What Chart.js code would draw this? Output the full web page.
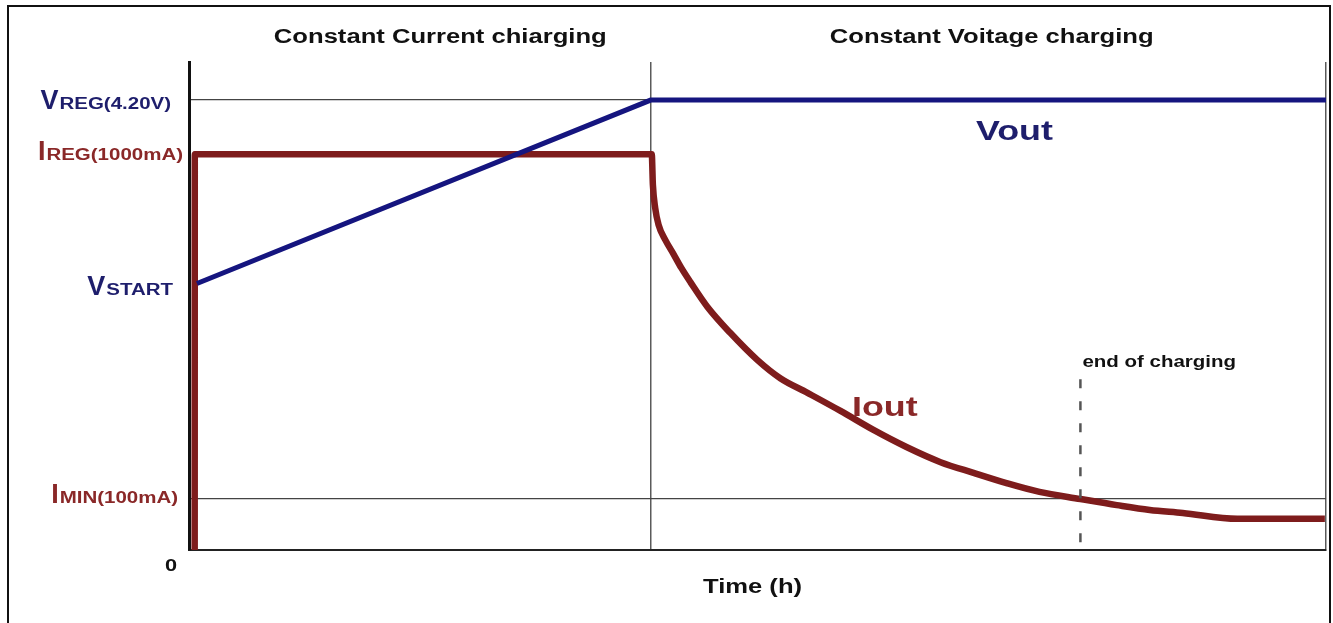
<!DOCTYPE html>
<html>
<head>
<meta charset="utf-8">
<title>Li-ion CC/CV charging</title>
<script src="https://cdn.jsdelivr.net/npm/chart.js@4/dist/chart.umd.min.js"></script>
<style>
  html, body { margin: 0; padding: 0; background: #fff; overflow: hidden; }
  #wrap { position: relative; width: 1333px; height: 623px; }
  #c { position: absolute; left: 0; top: 0; }
  #frame {
    position: absolute; left: 7px; top: 5px; width: 1320px; height: 700px;
    border: 2px solid #111; border-bottom: none; pointer-events: none;
  }
</style>
</head>
<body>
<div id="wrap">
  <canvas id="c" width="1333" height="623"></canvas>
  <div id="frame"></div>
</div>
<script>
// time axis in hours (schematic, no tick numbers), level axis in arbitrary units
const currentTime  = [0.05, 0.051, 4.07, 4.08, 4.10, 4.13, 4.19, 4.26, 4.33, 4.41, 4.56, 4.76, 5.00, 5.20, 5.44, 5.73, 6.02, 6.31, 6.61, 6.90, 7.19, 7.48, 7.84, 8.16, 8.45, 8.74, 9.22, 9.99];
const currentLevel = [0, 81.1, 81.1, 74.8, 70.1, 66.6, 63.5, 60.7, 57.8, 54.9, 49.8, 44.5, 38.9, 35.2, 32.2, 28.5, 24.6, 21.1, 18.0, 15.8, 13.7, 11.9, 10.45, 9.2, 8.2, 7.6, 6.4, 6.4];

const voltageTime  = [0.07, 4.06, 10];
const voltageLevel = [54.6, 92.2, 92.2];

const levelTicks = [0, 10.45, 54.6, 81.1, 92.2];
const levelBig   = ['0', 'I', 'V', 'I', 'V'];
const levelSmall = ['', 'MIN(100mA)', 'START', 'REG(1000mA)', 'REG(4.20V)'];

const phaseEnds  = [4.06, 10];
const phaseNames = ['Constant Current chiarging', 'Constant Voitage charging'];
const endOfCharge = 7.84;

const NAVY = '#15157f';
const NAVY_TXT = '#1e1e6c';
const RED = '#7e1c1c';
const RED_TXT = '#8a2828';
const FONT = '"Liberation Sans", Arial, sans-serif';
const SX = 1.28; // the picture's lettering is stretched sideways

function wideText(ctx, text, x, y, align, size, color) {
  ctx.save();
  ctx.font = 'bold ' + size + 'px ' + FONT;
  ctx.fillStyle = color;
  ctx.textBaseline = 'alphabetic';
  ctx.translate(x, y);
  ctx.scale(SX, 1);
  ctx.textAlign = align;
  ctx.fillText(text, 0, 0);
  ctx.restore();
}

// style of each level label: right edge, baseline offset from its tick, colour
const labelStyle = [
  null,
  { right: 177, dy: 4, color: RED_TXT },
  { right: 172, dy: 11, color: NAVY_TXT },
  { right: 182, dy: 6, color: RED_TXT },
  { right: 170, dy: 9, color: NAVY_TXT }
];

const annotations = {
  id: 'annotations',
  afterDraw(chart) {
    const ctx = chart.ctx;
    const x = chart.scales.x, y = chart.scales.y;
    const area = chart.chartArea;

    // level labels: big first letter + stretched subscript-like rest
    levelTicks.forEach((v, i) => {
      const py = y.getPixelForValue(v);
      if (i === 0) {
        wideText(ctx, levelBig[0], x.getPixelForValue(0) - 18, py + 21, 'center', 17, '#111');
        return;
      }
      const st = labelStyle[i];
      ctx.save();
      ctx.font = 'bold 16px ' + FONT;
      const wSmall = ctx.measureText(levelSmall[i]).width * SX;
      ctx.font = 'bold 27px ' + FONT;
      const wBig = ctx.measureText(levelBig[i]).width;
      const left = st.right - wSmall - wBig;
      ctx.fillStyle = st.color;
      ctx.textAlign = 'left';
      ctx.fillText(levelBig[i], left, py + st.dy);
      ctx.restore();
      wideText(ctx, levelSmall[i], left + wBig + 1, py + st.dy, 'left', 16, st.color);
    });

    // phase headings
    wideText(ctx, phaseNames[0], x.getPixelForValue(2.21), 43, 'center', 20, '#111');
    wideText(ctx, phaseNames[1], x.getPixelForValue(7.06), 43, 'center', 20, '#111');

    // series names
    wideText(ctx, 'Vout', x.getPixelForValue(7.26), y.getPixelForValue(86.3) + 11, 'center', 28, NAVY_TXT);
    wideText(ctx, 'Iout', x.getPixelForValue(6.12), y.getPixelForValue(27.5), 'center', 28, RED_TXT);

    // end of charging marker
    const ex = x.getPixelForValue(endOfCharge);
    ctx.save();
    ctx.strokeStyle = '#555';
    ctx.lineWidth = 2.5;
    ctx.setLineDash([9, 13]);
    ctx.beginPath();
    ctx.moveTo(ex, y.getPixelForValue(35));
    ctx.lineTo(ex, area.bottom);
    ctx.stroke();
    ctx.restore();
    wideText(ctx, 'end of charging', ex + 2, y.getPixelForValue(37.5), 'left', 16, '#111');

    // axis title
    wideText(ctx, 'Time (h)', x.getPixelForValue(5) - 5, area.bottom + 43, 'center', 20, '#111');
  }
};

new Chart(document.getElementById('c'), {
  type: 'scatter',
  data: {
    datasets: [
      {
        label: 'Vout',
        data: voltageTime.map((t, i) => ({ x: t, y: voltageLevel[i] })),
        showLine: true,
        borderColor: NAVY,
        borderWidth: 5,
        pointRadius: 0,
        order: 1
      },
      {
        label: 'Iout',
        data: currentTime.map((t, i) => ({ x: t, y: currentLevel[i] })),
        showLine: true,
        cubicInterpolationMode: 'monotone',
        borderColor: RED,
        borderWidth: 6.5,
        borderJoinStyle: 'round',
        pointRadius: 0,
        order: 2
      }
    ]
  },
  options: {
    responsive: false,
    animation: false,
    devicePixelRatio: 1,
    layout: {
      padding: { left: 189, right: 7, top: 62, bottom: 73 }
    },
    scales: {
      x: {
        type: 'linear',
        min: 0,
        max: 10,
        afterBuildTicks: (scale) => { scale.ticks = [0].concat(phaseEnds).map(v => ({ value: v })); },
        ticks: { display: false },
        grid: {
          drawTicks: false,
          color: (c) => (c.tick && phaseEnds.includes(c.tick.value)) ? '#5a5a5a' : 'rgba(0,0,0,0)',
          lineWidth: 1.5
        },
        border: { color: '#222', width: 2 }
      },
      y: {
        type: 'linear',
        min: 0,
        max: 100,
        afterBuildTicks: (scale) => { scale.ticks = levelTicks.map(v => ({ value: v })); },
        ticks: { display: false },
        grid: {
          drawTicks: false,
          color: (c) => (c.tick && (c.tick.value === levelTicks[1] || c.tick.value === levelTicks[4])) ? '#444' : 'rgba(0,0,0,0)',
          lineWidth: 1.2
        },
        border: { color: '#111', width: 3 }
      }
    },
    plugins: {
      legend: { display: false },
      tooltip: { enabled: false }
    }
  },
  plugins: [annotations]
});
</script>
</body>
</html>
